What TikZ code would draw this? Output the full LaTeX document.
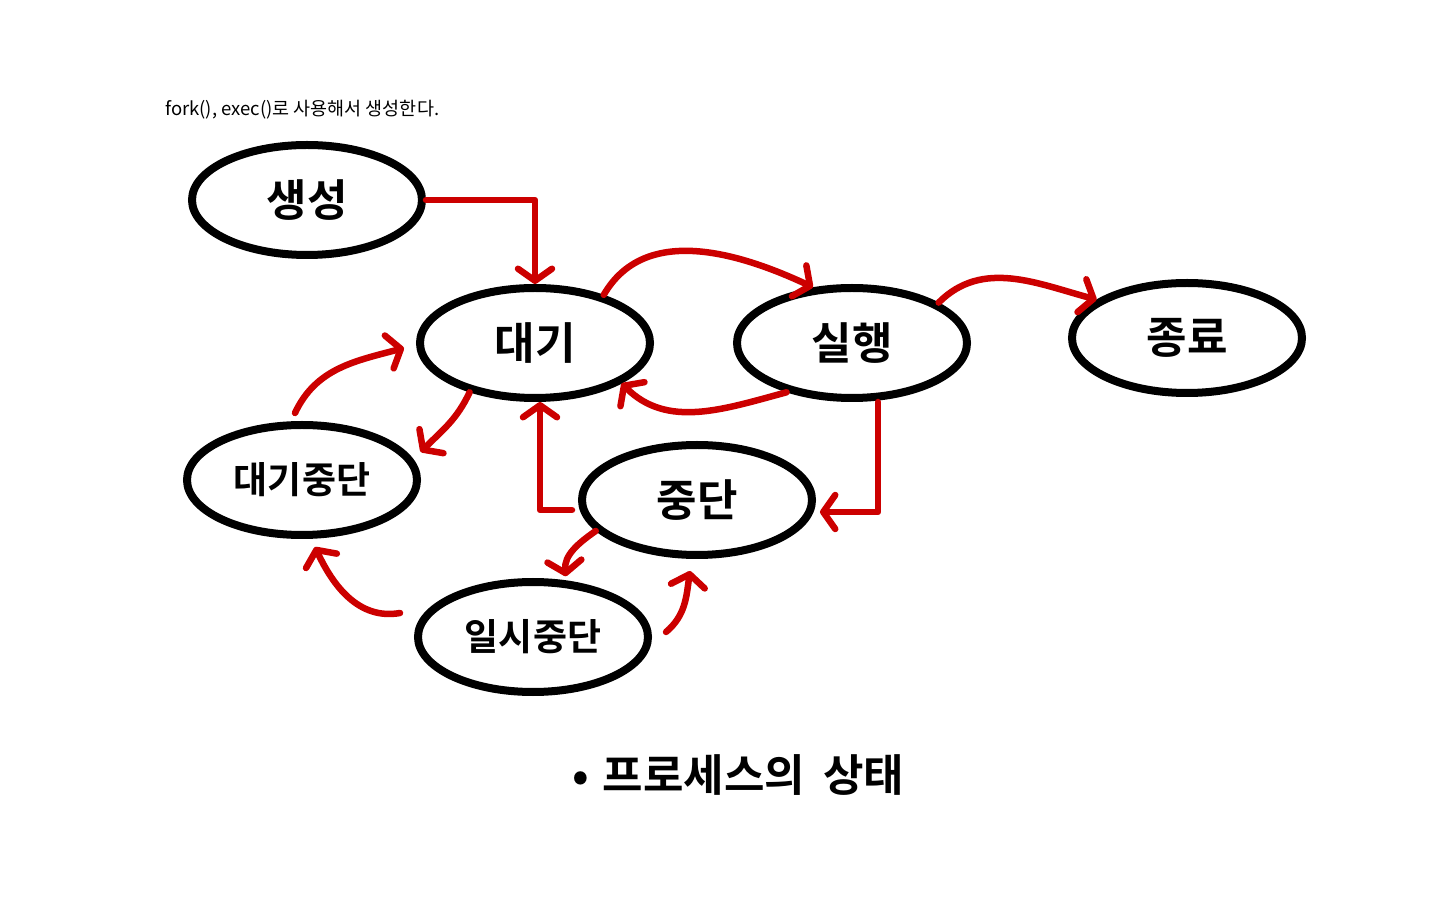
\documentclass[tikz,border=0pt]{standalone}
\usepackage{fontspec}
\setmainfont{Noto Sans CJK KR}[BoldFont=* Bold]
\usetikzlibrary{shapes.geometric,arrows.meta}
\definecolor{penred}{RGB}{204,0,0}
\begin{document}
\begin{tikzpicture}[x=1pt,y=1pt,
 state/.style={ellipse,draw=black,line width=8pt,minimum width=230pt,minimum height=110pt,inner sep=0pt,font=\bfseries\fontsize{44}{44}\selectfont},
 longstate/.style={state,font=\bfseries\fontsize{37}{37}\selectfont},
 flow/.style={draw=penred,line width=6.5pt,line cap=round,line join=round,-{Straight Barb[length=12pt,width=34pt,round]}},
 note/.style={font=\fontsize{18.5}{18.5}\selectfont,anchor=west,inner sep=0pt},
 caption/.style={font=\bfseries\fontsize{44}{44}\selectfont,inner sep=0pt}]
\useasboundingbox (0,0) rectangle (1440,900);
\fill[white] (0,0) rectangle (1440,900);

\node[note] (memo) at (165,790) {fork(), exec()로 사용해서 생성한다.};

\node[state] (saeng) at (307,700) {생성};
\node[state] (daegi) at (535,557) {대기};
\node[state] (sil) at (852,557) {실행};
\node[state] (jong) at (1187,562) {종료};
\node[longstate] (dj) at (302,420) {대기중단};
\node[state] (jung) at (697,400) {중단};
\node[longstate] (ilsi) at (533,263) {일시중단};

\node[caption] (title) at (738,125) {•\hspace{14pt}프로세스의\hspace{18pt}상태};

% arrows
\draw[flow] (saeng.east) -| (daegi.north);
\draw[flow] (daegi.35) to[out=60,in=155] (sil.125);
\draw[flow] (sil.217) to[out=195,in=315] (daegi.335);
\draw[flow] (sil.25) to[out=45,in=165] (jong.157);
\draw[flow] ([xshift=26pt]sil.south) |- ([xshift=4pt,yshift=-12pt]jung.east);
\draw[flow] ([xshift=-6pt,yshift=-10pt]jung.west) -| ([xshift=5pt]daegi.south);
\draw[flow] (daegi.217) to[out=245,in=45] ([xshift=14pt]dj.15);
\draw[flow] ([xshift=-7pt,yshift=8pt]dj.north) to[out=65,in=195] ([xshift=-12pt,yshift=-5pt]daegi.west);
\draw[flow] (jung.197) to[out=215,in=95] ([yshift=4pt]ilsi.60);
\draw[flow] ([xshift=14pt,yshift=5pt]ilsi.east) to[out=40,in=262] ([xshift=-7pt,yshift=-12pt]jung.south);
\draw[flow] ([xshift=-14pt,yshift=24pt]ilsi.west) to[out=190,in=295] ([xshift=13pt,yshift=-8pt]dj.south);
\end{tikzpicture}
\end{document}
